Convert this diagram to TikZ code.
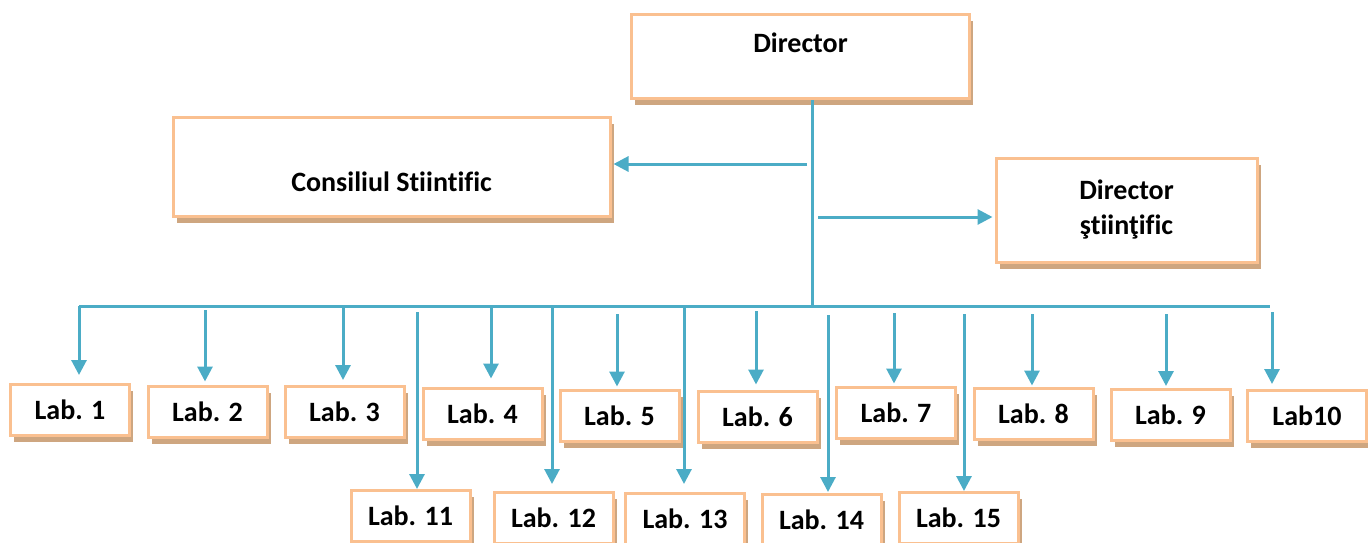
\documentclass[tikz,border=0pt]{standalone}
\usepackage{fontspec}
\setmainfont{Carlito}[Ligatures={NoCommon}]
\usetikzlibrary{arrows.meta,shadows}
\definecolor{linkblue}{RGB}{75,172,198}
\definecolor{boxorange}{RGB}{250,192,144}
\definecolor{boxshadow}{RGB}{206,166,128}

\begin{document}
\begin{tikzpicture}[x=1pt,y=-1pt,font=\fontsize{28}{35}\selectfont\bfseries,
  box/.style={draw=boxorange,line width=3pt,fill=white,inner sep=0pt,
    drop shadow={shadow xshift=3.5pt,shadow yshift=-6.5pt,fill=boxshadow,opacity=1}},
  lab/.style={box,minimum width=119pt,minimum height=51pt},
  conn/.style={draw=linkblue,line width=3pt},
  arr/.style={conn,-{Triangle[length=15pt,width=15pt]}}]
\useasboundingbox (0,0) rectangle (1368,543);

% top boxes
\node[box,minimum width=338pt,minimum height=84pt] (dir) at (800.5,56.5) {};
\node (dirtxt) at (800.5,43) {Director};
\node[box,minimum width=437pt,minimum height=99pt] (cons) at (391.5,166.5) {};
\node (constxt) at (391.5,182) {Consiliul Stiintific};
\node[box,minimum width=261pt,minimum height=104pt,align=center] (dsci) at (1126.5,210) {Director\\ştiinţific};

% laboratories
\foreach \n/\x/\y in {1/70/410,2/207.5/411.5,3/344.5/412,4/482.5/413.5,5/619.5/415.5,
  6/757.5/416.5,7/896/412.5,8/1033.5/413.5,9/1170.5/415,
  11/410.5/516,12/553.5/518,13/685/519,14/821.5/520,15/958.5/518}
  \node[lab] (lab\n) at (\x,\y) {Lab. \n};
\node[lab] (lab10) at (1307,416) {Lab10};

% connectors
\coordinate (trunk) at (812,306);
\coordinate (buswest) at (79,306);
\coordinate (buseast) at (1270,306);
\draw[conn] (dir.south -| trunk) -- (trunk);
\draw[conn] (buswest) -- (buseast);
\coordinate (tocons) at (807,164);
\coordinate (todsci) at (818,217);
\draw[arr,shorten >=2pt] (tocons) -- (tocons -| cons.east);
\draw[arr,shorten >=2pt] (todsci) -- (todsci -| dsci.west);

\foreach \n/\x/\s/\g in {1/79/306/8,2/205/310/3,3/343/308/5,4/491/307/8,5/617/314/2,
  6/756/311/5,7/894/313/2,8/1032/314/1,9/1166/314/2,10/1272/312/5,
  11/417/312/0,12/552/307/7,13/684/307/8,14/828/315/1,15/964/314/0}
{
  \coordinate (drop\n) at (\x,\s);
  \draw[arr,shorten >=\g pt] (drop\n) -- (drop\n |- lab\n.north);
}
\end{tikzpicture}
\end{document}
